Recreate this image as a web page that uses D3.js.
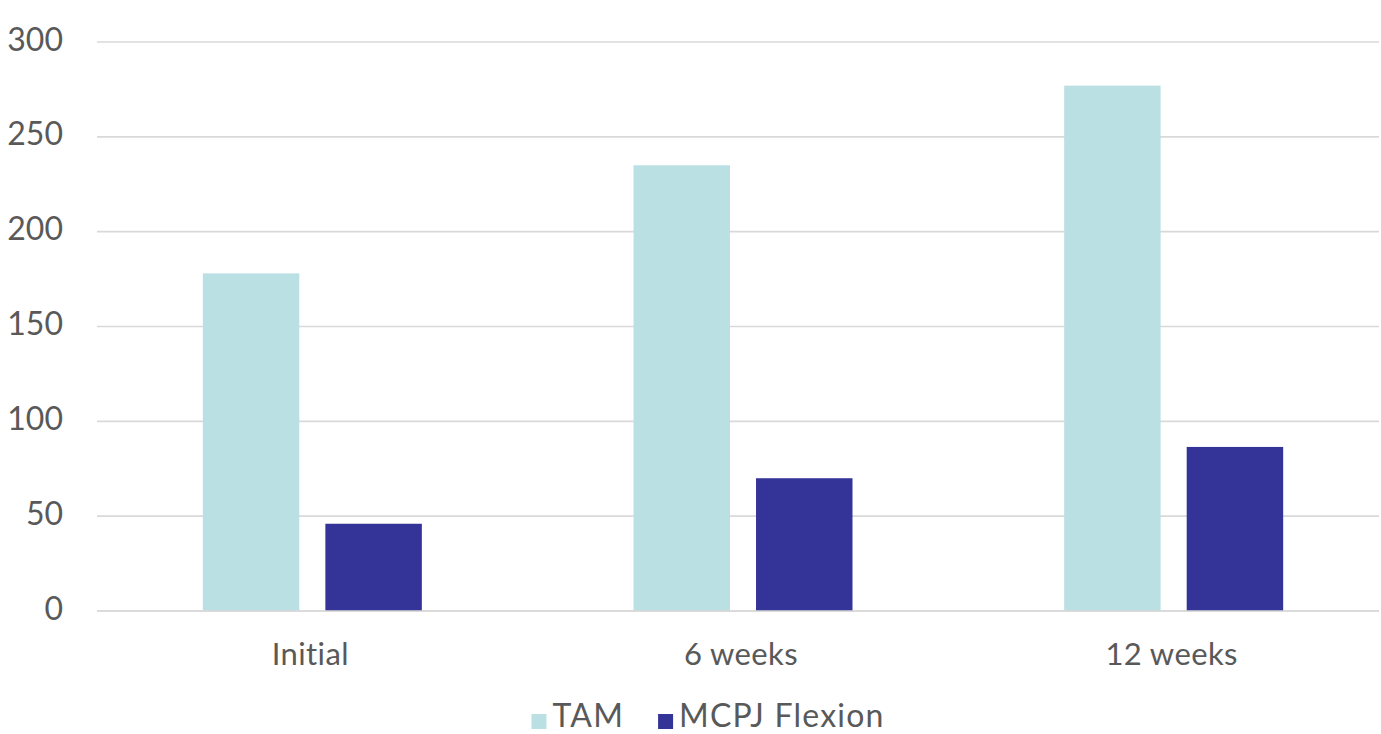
<!DOCTYPE html>
<html>
<head>
<meta charset="utf-8">
<script src="https://cdn.jsdelivr.net/npm/d3@7/dist/d3.min.js"></script>
<style>
  html, body { margin: 0; padding: 0; background: #ffffff; }
  svg { display: block; }
  text { font-family: Lato, "Open Sans", sans-serif; fill: #595959; }
</style>
</head>
<body>
<svg id="chart" width="1381" height="734"></svg>
<script>
// Range of motion (degrees) at each assessment point
const categories = ["Initial", "6 weeks", "12 weeks"];
const seriesNames = ["TAM", "MCPJ Flexion"];
const tamValues = [178, 235, 277];
const mcpjValues = [46, 70, 86.5];
const yTicks = [0, 50, 100, 150, 200, 250, 300];
const seriesColors = ["#bae0e3", "#343397"];

const seriesValues = [tamValues, mcpjValues];
const rows = categories.map((c, i) => ({
  category: c,
  values: seriesNames.map((s, j) => ({ series: s, value: seriesValues[j][i] }))
}));

const svg = d3.select("#chart");
const plotLeft = 97, plotRight = 1379, plotTop = 42, plotBottom = 611;

const x0 = d3.scaleBand().domain(categories).range([plotLeft, 1389]);
const bw = x0.bandwidth();
const barW = bw * 0.224;
const barGap = bw * 0.0605;
const x1 = d3.scaleOrdinal().domain(seriesNames)
  .range([bw / 2 - barGap / 2 - barW, bw / 2 + barGap / 2]);

const y = d3.scaleLinear().domain([0, 300]).range([plotBottom, plotTop]);
const color = d3.scaleOrdinal().domain(seriesNames).range(seriesColors);

// Horizontal gridlines
svg.append("g").selectAll("line").data(yTicks).join("line")
  .attr("x1", plotLeft).attr("x2", plotRight)
  .attr("y1", d => y(d)).attr("y2", d => y(d))
  .attr("stroke", "#d9d9d9").attr("stroke-width", 1.6);

// Y tick labels
svg.append("g").selectAll("text").data(yTicks).join("text")
  .attr("x", 63).attr("y", d => y(d) + 8.5)
  .attr("text-anchor", "end")
  .attr("font-size", 32)
  .text(d => d);

// Bars
const groups = svg.append("g").selectAll("g").data(rows).join("g")
  .attr("transform", d => `translate(${x0(d.category)},0)`);
groups.selectAll("rect").data(d => d.values).join("rect")
  .attr("x", d => x1(d.series))
  .attr("width", barW)
  .attr("y", d => y(d.value))
  .attr("height", d => y(0) - y(d.value))
  .attr("fill", d => color(d.series));

// Baseline drawn over bar bottoms
svg.append("line")
  .attr("x1", plotLeft).attr("x2", plotRight)
  .attr("y1", y(0)).attr("y2", y(0))
  .attr("stroke", "#d9d9d9").attr("stroke-width", 1.6);

// Category labels
svg.append("g").selectAll("text").data(categories).join("text")
  .attr("x", d => x0(d) + bw / 2 - 2)
  .attr("y", 665)
  .attr("text-anchor", "middle")
  .attr("font-size", 31)
  .attr("letter-spacing", 0.4)
  .text(d => d);

// Legend
const legend = svg.append("g");
const sw = 15, itemGap = 34, swGap = 6;
const items = legend.selectAll("g").data(seriesNames).join("g");
items.append("rect")
  .attr("width", sw).attr("height", sw)
  .attr("y", 714)
  .attr("fill", d => color(d));
items.append("text")
  .attr("x", sw + swGap)
  .attr("y", 727)
  .attr("font-size", 32)
  .attr("letter-spacing", 1.2)
  .text(d => d);
let cursor = 0;
const widths = [];
items.each(function () {
  const w = sw + swGap + this.querySelector("text").getComputedTextLength();
  widths.push(w);
});
const total = d3.sum(widths) + itemGap * (widths.length - 1);
cursor = 708 - total / 2;
items.attr("transform", (d, i) => {
  const t = `translate(${cursor},0)`;
  cursor += widths[i] + itemGap;
  return t;
});
</script>
</body>
</html>
